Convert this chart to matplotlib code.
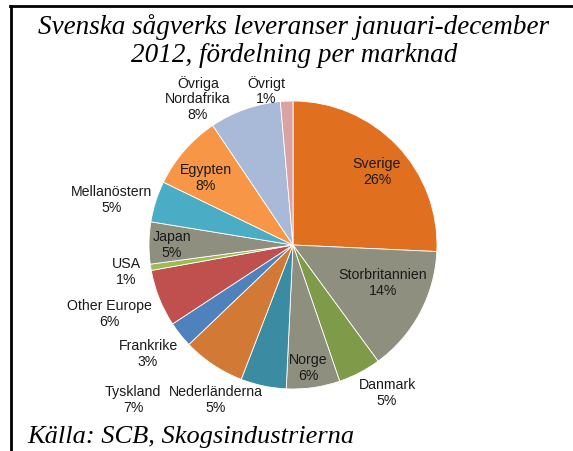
import matplotlib
matplotlib.use("Agg")
import matplotlib.pyplot as plt
from matplotlib.lines import Line2D

# --- Data (share of deliveries, %) ---
markets = ["Sverige", "Storbritannien", "Danmark", "Norge", "Nederländerna",
           "Tyskland", "Frankrike", "Other Europe", "USA", "Japan",
           "Mellanöstern", "Egypten", "Övriga\nNordafrika", "Övrigt"]
shares = [25.7, 14.2, 4.8, 6.0, 5.1, 7.0, 2.9, 6.4, 0.7, 4.7, 4.6, 8.4, 8.0, 1.4]

colors = ["#E0701F", "#8F8F7F", "#7F9A48", "#8F8F7F", "#3B8CA3", "#D27A35",
          "#4F81BD", "#C0504D", "#9BBB59", "#8F8F7F", "#4BACC6", "#F79646",
          "#A9B9D8", "#D9A3A3"]

# label centres, offset from pie centre in pixels (x right, y down)
label_px = [(84, -73), (90, 38), (94, 148), (15, 123), (-77, 155),
            (-160, 155), (-145, 109), (-184, 69), (-167, 27), (-121, 0),
            (-181, -45), (-87, -67), (-95, -146), (-27, -154)]

# --- Figure ---
W, H = 573, 451
cx, cy, R = 293, 245, 144
fig = plt.figure(figsize=(W / 100, H / 100), dpi=100)
ax = fig.add_axes([0, 0, 1, 1])

ax.pie(shares, colors=colors, startangle=90, counterclock=False, radius=1,
       wedgeprops=dict(edgecolor="white", linewidth=0.6))
ax.set_xlim(-cx / R, (W - cx) / R)
ax.set_ylim(-(H - cy) / R, cy / R)
ax.set_aspect("auto")
ax.axis("off")

total = sum(shares)
for name, v, (dx, dy) in zip(markets, shares, label_px):
    ax.text(dx / R, -dy / R, "%s\n%.0f%%" % (name, v / total * 100),
            ha="center", va="center", fontsize=10.2, family="Liberation Sans",
            color="#1a1a1a", linespacing=1.15)

fig.text(294 / W, 1 - 41 / H, "Svenska sågverks leveranser januari-december\n2012, fördelning per marknad",
         ha="center", va="center", fontsize=19.5, family="Liberation Serif",
         style="italic", linespacing=1.2)
fig.text(27 / W, 1 - 437 / H, "Källa: SCB, Skogsindustrierna", ha="left", va="center",
         fontsize=19, family="Liberation Serif", style="italic")

# chart border (only top and left edges inside the picture)
fig.add_artist(Line2D([10 / W, 1], [1 - 6 / H, 1 - 6 / H], transform=fig.transFigure,
                      color="black", linewidth=2))
fig.add_artist(Line2D([11 / W, 11 / W], [0, 1 - 6 / H], transform=fig.transFigure,
                      color="black", linewidth=2))

fig.savefig("out.png", dpi=100)
